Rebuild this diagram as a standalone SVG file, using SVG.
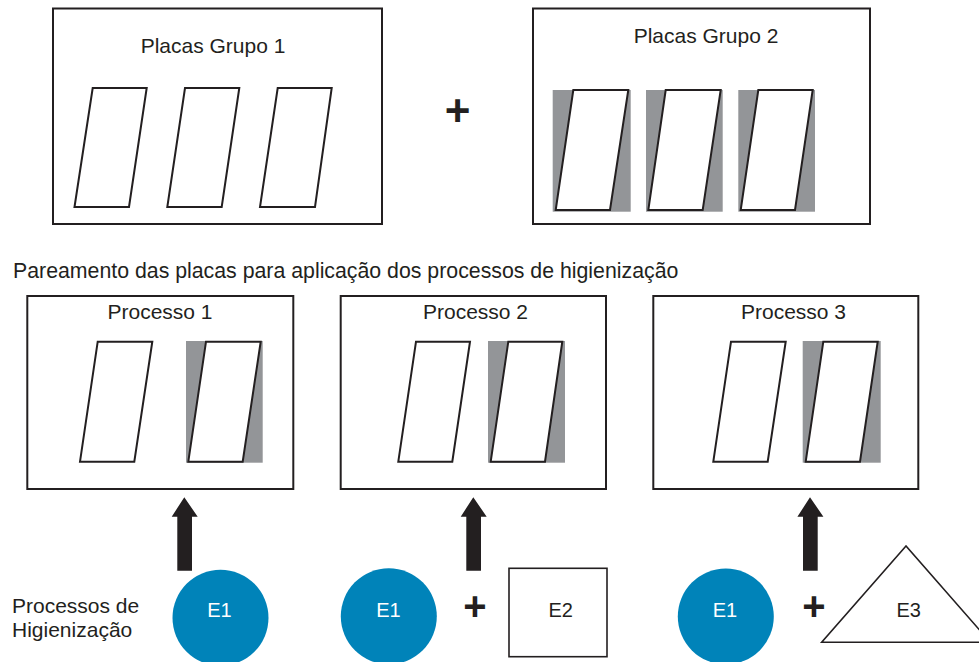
<svg xmlns="http://www.w3.org/2000/svg" width="979" height="662" viewBox="0 0 979 662">
  <defs>
    <style>
      .frame { fill: #ffffff; stroke: #231f20; stroke-width: 2; }
      .plate { fill: #ffffff; stroke: #231f20; stroke-width: 2; stroke-linejoin: miter; }
      .shade { fill: #939598; stroke: none; }
      .label { font-family: "Liberation Sans", Arial, sans-serif; font-size: 21px; fill: #231f20; }
      .mid { text-anchor: middle; }
      .agent { fill: #0083b9; }
      .agent-text { font-family: "Liberation Sans", Arial, sans-serif; font-size: 20px; fill: #ffffff; text-anchor: middle; }
      .outline { fill: #ffffff; stroke: #231f20; stroke-width: 1.6; }
      .plus { font-family: "Liberation Sans", Arial, sans-serif; font-weight: bold; fill: #231f20; text-anchor: middle; }
      .arrow { fill: #231f20; }
    </style>
    <!-- thick upward arrow, tip at origin -->
    <path id="up-arrow" d="M-7,73.4 L-7,19.4 L-12.6,19.4 L0,0 L13.4,19.4 L7.7,19.4 L7.7,73.4 Z"/>
  </defs>

  <rect width="979" height="662" fill="#ffffff"/>

  <!-- Group 1 plates -->
  <g id="grupo1">
    <rect class="frame" x="53" y="8.5" width="329" height="215.5"/>
    <text class="label mid" x="213" y="53">Placas Grupo 1</text>
    <polygon class="plate" points="92.7,88 146.7,88 129,207 74.5,207"/>
    <polygon class="plate" points="185,88 239.3,88 221.7,207 167.3,207"/>
    <polygon class="plate" points="277.7,88 331.7,88 315,207 260,207"/>
  </g>

  <text id="plus-top" class="plus" x="457.7" y="125.5" font-size="44">+</text>

  <!-- Group 2 plates (shaded) -->
  <g id="grupo2">
    <rect class="frame" x="533" y="8.5" width="337" height="215.5"/>
    <text class="label mid" x="706" y="43">Placas Grupo 2</text>
    <rect class="shade" x="552.7" y="90" width="78" height="121.7"/>
    <polygon class="plate" points="573.3,90 628.3,90 610,210 555.7,210"/>
    <rect class="shade" x="646" y="90" width="76.7" height="121.7"/>
    <polygon class="plate" points="665.7,90 720.7,90 702.7,210 648.3,210"/>
    <rect class="shade" x="738.3" y="90" width="76.7" height="121.7"/>
    <polygon class="plate" points="758.3,90 812.7,90 795,210 740.7,210"/>
  </g>

  <text id="caption" class="label" x="13" y="278" style="font-size:21.3px">Pareamento das placas para aplicação dos processos de higienização</text>

  <!-- Process boxes -->
  <g id="processo1">
    <rect class="frame" x="27.3" y="296" width="266" height="193"/>
    <text class="label mid" x="160" y="319">Processo 1</text>
    <polygon class="plate" points="97.7,341.7 152.3,341.7 134.3,461.7 80,461.7"/>
    <rect class="shade" x="186" y="341" width="76.7" height="121.7"/>
    <polygon class="plate" points="206,341.7 260.7,341.7 242.7,461.7 188.3,461.7"/>
  </g>

  <g id="processo2">
    <rect class="frame" x="340.7" y="296" width="265.3" height="193"/>
    <text class="label mid" x="475.5" y="319">Processo 2</text>
    <polygon class="plate" points="416,341.7 470,341.7 452.3,461.7 398.3,461.7"/>
    <rect class="shade" x="488" y="341" width="77" height="121.7"/>
    <polygon class="plate" points="508.3,341.7 562.3,341.7 545,461.7 490.7,461.7"/>
  </g>

  <g id="processo3">
    <rect class="frame" x="653.3" y="296" width="265" height="193"/>
    <text class="label mid" x="793.5" y="319">Processo 3</text>
    <polygon class="plate" points="731,341.7 785.7,341.7 767.7,461.7 713.3,461.7"/>
    <rect class="shade" x="802.7" y="341" width="78" height="121.7"/>
    <polygon class="plate" points="823.3,341.7 877.7,341.7 860,461.7 805.7,461.7"/>
  </g>

  <!-- Arrows feeding each process -->
  <g id="connectors">
    <use href="#up-arrow" class="arrow" x="184.3" y="497.3"/>
    <use href="#up-arrow" class="arrow" x="473.3" y="497.3"/>
    <use href="#up-arrow" class="arrow" x="810" y="497.3"/>
  </g>

  <!-- Sanitising agents -->
  <g id="legenda">
    <text class="label" x="12" y="613">Processos de</text>
    <text class="label" x="12" y="637">Higienização</text>
  </g>

  <g id="e1-a">
    <circle class="agent" cx="220.5" cy="617.8" r="48"/>
    <text class="agent-text" x="219.5" y="617">E1</text>
  </g>

  <g id="e1-b">
    <circle class="agent" cx="388.8" cy="616.3" r="48"/>
    <text class="agent-text" x="388.5" y="617">E1</text>
  </g>

  <text id="plus-2" class="plus" x="475" y="620" font-size="40">+</text>

  <g id="e2">
    <rect class="outline" x="509" y="568.3" width="98" height="88.4"/>
    <text class="label mid" x="560.7" y="617" style="font-size:20px">E2</text>
  </g>

  <g id="e1-c">
    <circle class="agent" cx="725.8" cy="616.5" r="48"/>
    <text class="agent-text" x="725" y="617">E1</text>
  </g>

  <text id="plus-3" class="plus" x="814" y="620" font-size="40">+</text>

  <g id="e3">
    <polygon class="outline" points="906,546 821.7,642.3 990.3,642.3"/>
    <text class="label mid" x="908.7" y="617" style="font-size:20px">E3</text>
  </g>
</svg>
